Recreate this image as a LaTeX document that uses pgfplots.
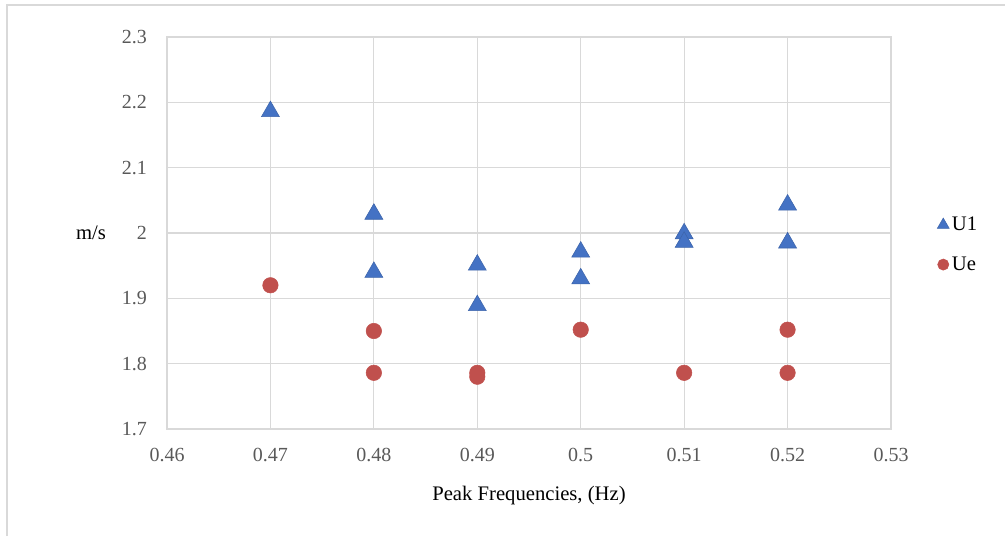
\documentclass[border=0pt]{standalone}
\usepackage{pgfplots}
\pgfplotsset{compat=1.18}
\usepackage{fontspec}
\setmainfont{Liberation Serif}
\definecolor{gridc}{RGB}{217,217,217}
\definecolor{tickc}{RGB}{89,89,89}
\definecolor{bluem}{RGB}{68,114,196}
\definecolor{bluee}{RGB}{60,100,170}
\definecolor{redm}{RGB}{192,80,77}
\begin{document}
\begin{tikzpicture}
\path[use as bounding box] (0pt,0pt) rectangle (753.75pt,402pt);
\draw[gridc,line width=1.5pt] (5.25pt,0pt) -- (5.25pt,398.25pt) -- (753.75pt,398.25pt);
\begin{axis}[
  at={(125.25pt,80.25pt)}, anchor=south west,
  scale only axis, width=543pt, height=294pt,
  xmin=0.46, xmax=0.53, ymin=1.7, ymax=2.3,
  xtick={0.46,0.47,0.48,0.49,0.5,0.51,0.52,0.53}, ytick={1.7,1.8,1.9,2,2.1,2.2,2.3},
  xticklabels={0.46,0.47,0.48,0.49,0.5,0.51,0.52,0.53},
  yticklabels={1.7,1.8,1.9,2,2.1,2.2,2.3},
  grid=major, major grid style={gridc, line width=0.9pt},
  axis line style={gridc, line width=0.9pt},
  tick style={draw=none},
  tick label style={font=\fontsize{15}{17}\selectfont, text=tickc},
  xticklabel style={yshift=-11pt},
  yticklabel style={xshift=-11.5pt},
  xlabel={Peak Frequencies, (Hz)},
  xlabel style={font=\fontsize{15.5}{17}\selectfont, yshift=-11pt},
  clip=false,
  legend style={at={(1.058,0.47)}, anchor=west, draw=none, fill=none,
    font=\fontsize{15.5}{17}\selectfont, row sep=14pt},
  legend cell align=left,
]
\addplot[only marks, mark=triangle*, mark size=7.8pt, mark options={fill=bluem, draw=bluee, line width=0.4pt},
  legend image code/.code={\draw[mark=triangle*, mark size=5.2pt, fill=bluem, draw=bluee, line width=0.4pt] plot coordinates {(0.12cm,0cm)};}]
coordinates {
(0.47,2.186) (0.48,2.029) (0.48,1.940) (0.49,1.951) (0.49,1.889)
(0.50,1.971) (0.50,1.930) (0.51,1.999) (0.51,1.986) (0.52,2.043) (0.52,1.985)
};
\addlegendentry{U1}
\addplot[only marks, mark=*, mark size=5.8pt, mark options={fill=redm, draw=redm},
  legend image code/.code={\draw[mark=*, mark size=4.2pt, fill=redm, draw=redm] plot coordinates {(0.12cm,0cm)};}]
coordinates {
(0.47,1.920) (0.48,1.850) (0.48,1.786) (0.49,1.786) (0.49,1.780)
(0.50,1.852) (0.51,1.786) (0.52,1.852) (0.52,1.786)
};
\addlegendentry{Ue}
\node[font=\fontsize{15.5}{17}\selectfont, anchor=center] at (rel axis cs:-0.105,0.5) {m/s};
\end{axis}
\end{tikzpicture}
\end{document}
